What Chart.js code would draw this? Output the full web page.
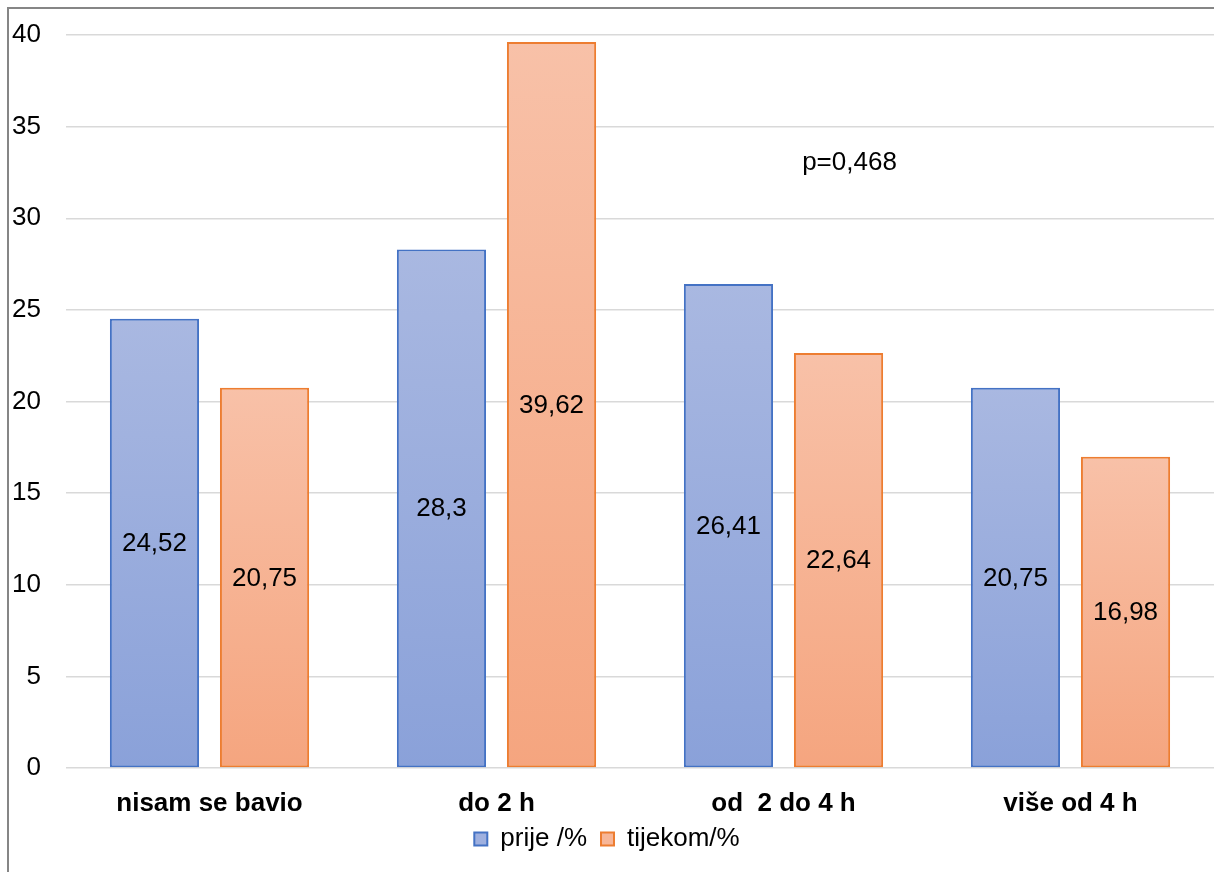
<!DOCTYPE html>
<html>
<head>
<meta charset="utf-8">
<script src="https://cdn.jsdelivr.net/npm/chart.js@4"></script>
<style>
  html, body { margin: 0; padding: 0; background: #fff; }
  #wrap { position: relative; width: 1214px; height: 872px; overflow: hidden; }
  #frame { position: absolute; left: 7px; top: 7px; width: 1300px; height: 1000px; border-left: 2px solid #868686; border-top: 2px solid #868686; box-sizing: border-box; pointer-events: none; }
  canvas { position: absolute; left: 0; top: 0; }
</style>
</head>
<body>
<div id="wrap">
  <canvas id="myChart" width="1214" height="872"></canvas>
  <div id="frame"></div>
</div>
<script>
const categories = ['nisam se bavio', 'do 2 h', 'od  2 do 4 h', 'više od 4 h'];
const prije = [24.52, 28.3, 26.41, 20.75];
const tijekom = [20.75, 39.62, 22.64, 16.98];
const yTicks = [0, 5, 10, 15, 20, 25, 30, 35, 40];
const note = 'p=0,468';

const FONT = "'Liberation Sans', Arial, sans-serif";

function barGradient(top, bottom) {
    return function (context) {
        const chart = context.chart;
        const area = chart.chartArea;
        if (!area || context.type !== 'data') return bottom;
        const yScale = chart.scales.y;
        const yTop = yScale.getPixelForValue(context.raw);
        const yBase = yScale.getPixelForValue(0);
        const g = chart.ctx.createLinearGradient(0, yTop, 0, yBase);
        g.addColorStop(0, top);
        g.addColorStop(1, bottom);
        return g;
    };
}

const valueLabels = {
    id: 'valueLabels',
    afterDatasetsDraw(chart) {
        const ctx = chart.ctx;
        ctx.save();
        ctx.font = '26px ' + FONT;
        ctx.fillStyle = '#000';
        ctx.textAlign = 'center';
        ctx.textBaseline = 'middle';
        chart.data.datasets.forEach((ds, i) => {
            chart.getDatasetMeta(i).data.forEach((bar, j) => {
                const txt = String(ds.data[j]).replace('.', ',');
                ctx.fillText(txt, bar.x, (bar.y + bar.base) / 2 + 1);
            });
        });
        // p value note
        const xs = chart.scales.x;
        ctx.fillText(note, xs.getPixelForValue(2) + 66, chart.scales.y.getPixelForValue(33.05));
        ctx.restore();
    }
};

const ctx = document.getElementById('myChart').getContext('2d');
const myChart = new Chart(ctx, {
    type: 'bar',
    data: {
        labels: categories,
        datasets: [{
            label: 'prije /%',
            data: prije,
            backgroundColor: barGradient('#a9b8e1', '#8aa1d9'),
            borderColor: '#4472c4',
            borderWidth: 2,
            borderSkipped: false
        }, {
            label: 'tijekom/%',
            data: tijekom,
            backgroundColor: barGradient('#f8c1a8', '#f5a57f'),
            borderColor: '#ed7d31',
            borderWidth: 2,
            borderSkipped: false
        }]
    },
    options: {
        responsive: false,
        animation: false,
        layout: { padding: { top: 35, right: 0, left: 0, bottom: 10 } },
        categoryPercentage: 0.767,
        barPercentage: 0.81,
        plugins: {
            tooltip: { enabled: false },
            legend: {
                position: 'bottom',
                labels: {
                    color: '#000',
                    font: { family: FONT, size: 26 },
                    boxWidth: 13,
                    boxHeight: 13,
                    padding: 14,
                    useBorderRadius: false,
                    generateLabels(chart) {
                        const fills = ['#9fb0df', '#f7b698'];
                        return chart.data.datasets.map((ds, i) => ({
                            text: ds.label,
                            fillStyle: fills[i],
                            strokeStyle: ds.borderColor,
                            lineWidth: 2,
                            datasetIndex: i,
                            hidden: false
                        }));
                    }
                }
            }
        },
        scales: {
            x: {
                grid: { display: false, drawTicks: false },
                border: { display: false },
                ticks: {
                    color: '#000',
                    font: { family: FONT, size: 26, weight: 'bold' },
                    padding: 20
                },
                afterFit(scale) { scale.height = 44; }
            },
            y: {
                min: 0,
                max: 40,
                afterBuildTicks(scale) {
                    scale.ticks = yTicks.map(v => ({ value: v }));
                },
                grid: { color: '#d9d9d9', lineWidth: 1.5, drawTicks: false },
                border: { display: false },
                ticks: {
                    color: '#000',
                    font: { family: FONT, size: 26 },
                    padding: 25
                },
                afterFit(scale) {
                    scale.width = 66;
                    scale.paddingTop = 0;
                    scale.paddingBottom = 0;
                }
            }
        }
    },
    plugins: [valueLabels]
});
</script>
</body>
</html>
